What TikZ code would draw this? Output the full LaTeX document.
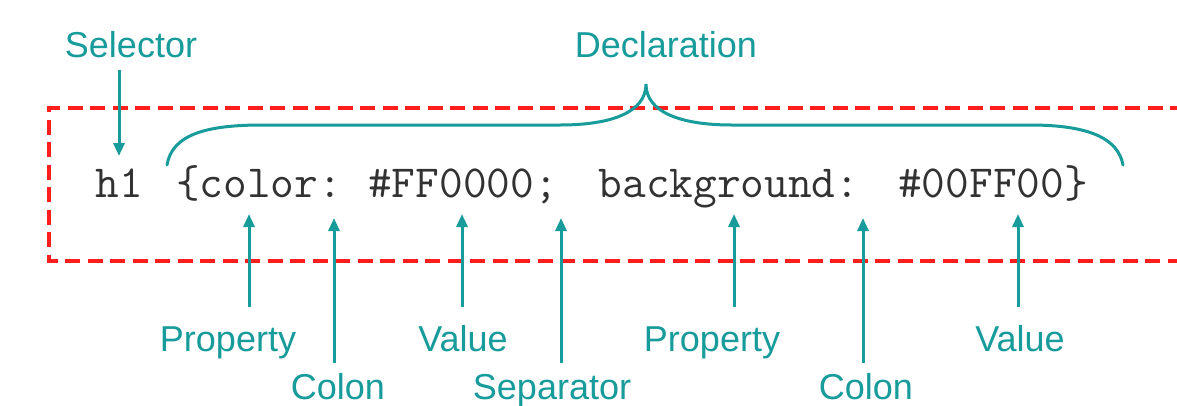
\documentclass[tikz,border=0pt]{standalone}
\usepackage{fontspec}
\setmainfont{Liberation Sans}
\usetikzlibrary{arrows.meta}
\definecolor{teal1}{RGB}{23,155,155}
\definecolor{red1}{RGB}{255,30,30}
\definecolor{code1}{RGB}{50,50,50}
\tikzset{
  lbl/.style={anchor=base, inner sep=0pt, text=teal1, font=\fontsize{36}{40}\selectfont},
  code/.style={anchor=base, inner sep=0pt, text=code1, font=\fontsize{46}{50}\selectfont\fontspec{Latin Modern Mono}},
  arr/.style={draw=teal1, line width=3pt, -{Triangle[length=13pt,width=11pt]}},
  brace/.style={draw=teal1, line width=3pt, line cap=round},
  box/.style={draw=red1, line width=3.5pt, dash pattern=on 15pt off 7.5pt}
}
\begin{document}
\begin{tikzpicture}[x=1pt,y=-1pt]
\useasboundingbox[fill=white] (0,0) rectangle (1177,405);

% dashed box (open at right)
\draw[box] (1185,108) -- (49,108) -- (49,261) -- (1185,261);

% code tokens
\node[code] (sel) at (119,197) {h1};
\node[code] (t1) at (259,197) {\{color:};
\node[code] (t2) at (463,197) {\#FF0000;};
\node[code] (t3) at (729,197) {background:};
\node[code] (t4) at (993,197) {\#00FF00\}};

% labels
\node[lbl] (lsel) at (131,57) {Selector};
\node[lbl] (ldec) at (666,57) {Declaration};
\node[lbl] (lp1) at (228,351) {Property};
\node[lbl] (lv1) at (463,351) {Value};
\node[lbl] (lp2) at (712,351) {Property};
\node[lbl] (lv2) at (1020,351) {Value};
\node[lbl] (lc1) at (338,399) {Colon};
\node[lbl] (lsep) at (552,399) {Separator};
\node[lbl] (lc2) at (866,399) {Colon};

% arrow end points
\coordinate (s0) at (119,70);   \coordinate (s1) at (119,156);
\coordinate (a0) at (249,307);  \coordinate (a1) at (249,214);
\coordinate (b0) at (334,363);  \coordinate (b1) at (334,218);
\coordinate (c0) at (462,307);  \coordinate (c1) at (462,214);
\coordinate (d0) at (561,363);  \coordinate (d1) at (561,218);
\coordinate (e0) at (734,307);  \coordinate (e1) at (734,214);
\coordinate (f0) at (863,363);  \coordinate (f1) at (863,218);
\coordinate (g0) at (1018,307); \coordinate (g1) at (1018,214);

\draw[arr] (s0) -- (s1);
\draw[arr] (a0) -- (a1);
\draw[arr] (b0) -- (b1);
\draw[arr] (c0) -- (c1);
\draw[arr] (d0) -- (d1);
\draw[arr] (e0) -- (e1);
\draw[arr] (f0) -- (f1);
\draw[arr] (g0) -- (g1);

% brace
\coordinate (bl) at (167,165);
\coordinate (br) at (1123,165);
\coordinate (bt) at (646,84);
\draw[brace] (bl) .. controls (172,135) and (205,125) .. (262,125)
  -- (560,125) .. controls (612,125) and (646,112) .. (bt)
  .. controls (646,112) and (680,125) .. (732,125)
  -- (1030,125) .. controls (1088,125) and (1118,138) .. (br);
\end{tikzpicture}
\end{document}
